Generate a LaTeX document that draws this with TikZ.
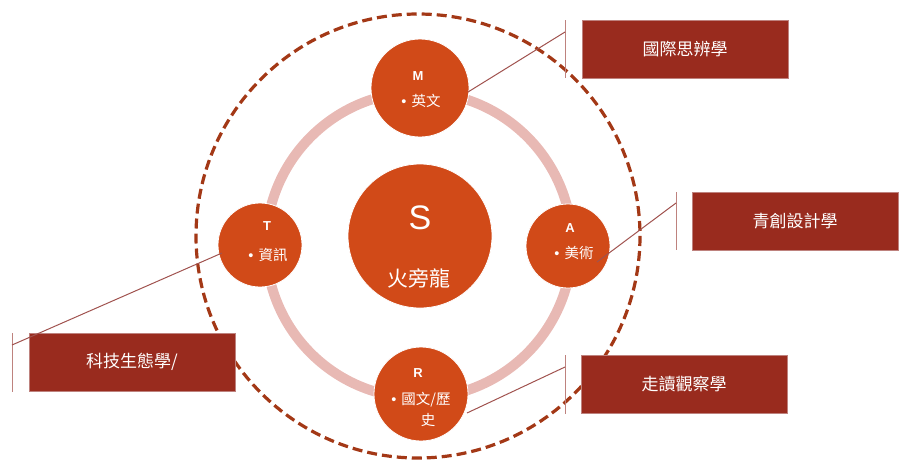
\documentclass[tikz,border=0pt]{standalone}
\usepackage{fontspec}
\setmainfont{Noto Sans CJK TC}
\newfontfamily\latf{Liberation Sans}
\definecolor{nodeor}{RGB}{209,74,24}
\definecolor{ringpk}{RGB}{232,185,180}
\definecolor{boxred}{RGB}{153,43,30}
\definecolor{dashbr}{RGB}{163,56,22}
\definecolor{linebr}{RGB}{160,82,78}
\definecolor{brackc}{RGB}{190,130,126}
\newcommand{\bul}{{\latf\char"2022}\hspace{5pt}}
\tikzset{
  bubble/.style={circle,fill=nodeor,draw=white,line width=0.8pt,inner sep=0pt},
  lettr/.style={text=white,font=\latf\bfseries\fontsize{13}{14}\selectfont,inner sep=0pt},
  subj/.style={text=white,font=\fontsize{14.5}{16}\selectfont,inner sep=0pt},
  catbox/.style={rectangle,fill=boxred,draw=brackc,line width=0.6pt,minimum width=206pt,minimum height=58pt,inner sep=0pt,text=white,font=\fontsize{17}{19}\selectfont},
  link/.style={draw=linebr,line width=1pt},
  brack/.style={draw=brackc,line width=1pt},
  ringline/.style={draw=ringpk,line width=10pt},
  outer/.style={draw=dashbr,line width=3.2pt,dash pattern=on 10pt off 5pt}
}
\begin{document}
\begin{tikzpicture}[x=1pt,y=-1pt]
\useasboundingbox (0,0) rectangle (901,461);
\coordinate (oc) at (418,236);
\coordinate (rc) at (419,245);
\draw[outer] (oc) circle (222);
\draw[ringline] (rc) circle (153);
% circles
\node[bubble,minimum size=98pt] (M) at (420,88) {};
\node[bubble,minimum size=144pt] (S) at (420,236) {};
\node[bubble,minimum size=84pt] (T) at (260,245) {};
\node[bubble,minimum size=84pt] (A) at (568,246) {};
\node[bubble,minimum size=94pt] (R) at (421,394) {};
% texts
\node[lettr] (Mt) at (418,76) {M};
\node[subj] (Ms) at (421,101) {\bul 英文};
\node[text=white,font=\latf\fontsize{34}{36}\selectfont,inner sep=0pt] (St) at (420,218) {S};
\node[text=white,font=\fontsize{21}{23}\selectfont,inner sep=0pt] (Ss) at (419,278) {火旁龍};
\node[lettr] (Tt) at (267,226) {T};
\node[subj] (Ts) at (268,255) {\bul 資訊};
\node[lettr] (At) at (570,228) {A};
\node[subj] (As) at (574,253) {\bul 美術};
\node[lettr] (Rt) at (418,373) {R};
\node[subj] (Rs) at (421,400) {\bul 國文/歷};
\node[subj] (Rs2) at (428,420) {史};
% boxes
\node[catbox] (B1) at (685,49) {國際思辨學};
\node[catbox] (B2) at (795,221) {青創設計學};
\node[catbox] (B3) at (132,362) {科技生態學/};
\node[catbox] (B4) at (684,384) {走讀觀察學};
% bracket coordinates
\coordinate (b1t) at (565,20);  \coordinate (b1b) at (565,78);  \coordinate (b1k) at (565,32);
\coordinate (b2t) at (676,192); \coordinate (b2b) at (676,250); \coordinate (b2k) at (676,203);
\coordinate (b3t) at (12,333);  \coordinate (b3b) at (12,392);  \coordinate (b3k) at (12,345);
\coordinate (b4t) at (565,355); \coordinate (b4b) at (565,414); \coordinate (b4k) at (565,367);
\coordinate (m1) at (468,92);
\coordinate (a1) at (597,262);
\coordinate (t1) at (222,253);
\coordinate (r1) at (467,413);
\draw[brack] (b1t) -- (b1b);
\draw[brack] (b2t) -- (b2b);
\draw[brack] (b3t) -- (b3b);
\draw[brack] (b4t) -- (b4b);
\draw[link] (b1k) -- (m1);
\draw[link] (b2k) -- (a1);
\draw[link] (b3k) -- (t1);
\draw[link] (b4k) -- (r1);
\end{tikzpicture}
\end{document}
